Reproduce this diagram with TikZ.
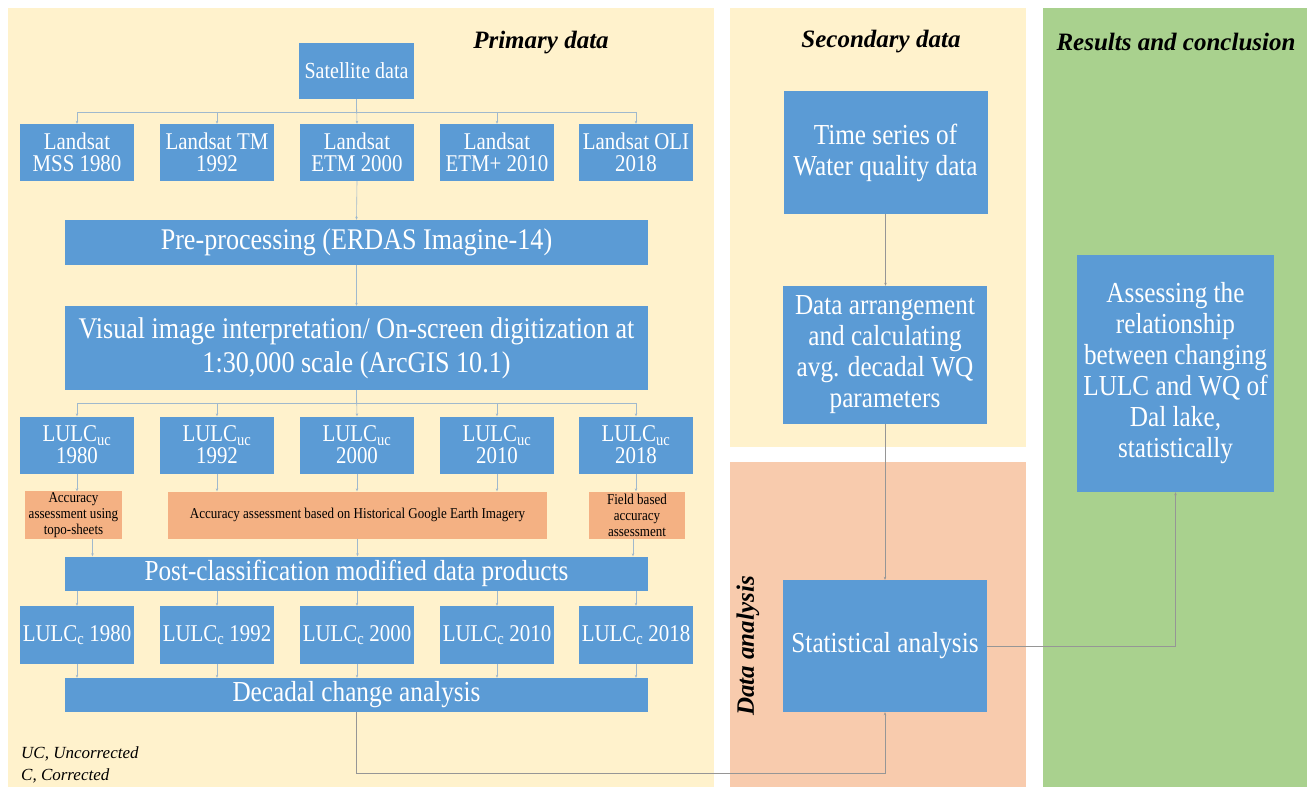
\documentclass[tikz,border=0pt]{standalone}
\usepackage{fontspec}
\setmainfont{Liberation Serif}
\newfontfamily\narrowfont[FakeStretch=0.87]{Liberation Serif}
\usetikzlibrary{arrows.meta}
\definecolor{boxblue}{RGB}{91,155,213}
\definecolor{accorange}{RGB}{244,177,131}
\definecolor{panelyellow}{RGB}{255,242,204}
\definecolor{panelsalmon}{RGB}{248,203,173}
\definecolor{panelgreen}{RGB}{169,209,142}
\definecolor{linkblue}{RGB}{160,185,205}
\definecolor{linkgray}{RGB}{150,150,150}
\tikzset{every node/.style={inner sep=1pt, align=center},
  bluebox/.style={fill=boxblue, text=white},
  smallbox/.style={bluebox, minimum width=114pt, font=\narrowfont\fontsize{24}{22}\selectfont},
  widebox/.style={bluebox, minimum width=583pt},
  accbox/.style={fill=accorange, minimum height=47pt, font=\narrowfont\fontsize{15}{16}\selectfont},
  sidebox/.style={bluebox, minimum width=204pt, font=\narrowfont\fontsize{29}{31}\selectfont},
  title/.style={font=\fontsize{25}{28}\selectfont\bfseries\itshape},
  link/.style={draw=linkblue, line width=0.6pt, -{Stealth[length=3pt,width=2.5pt]}},
  link2/.style={draw=linkgray, line width=0.6pt, -{Stealth[length=3pt,width=2.5pt]}}}

\begin{document}
\begin{tikzpicture}[x=1pt, y=-1pt]
   \useasboundingbox (0,0) rectangle (1307,787);
   % panels
   \fill[panelyellow] (8,8) rectangle (714,787);
   \fill[panelyellow] (730,8) rectangle (1026,447);
   \fill[panelsalmon] (730,462) rectangle (1026,787);
   \fill[panelgreen] (1043,8) rectangle (1307,787);
   \node[title] (ptitle) at (541,43) {Primary data};
   \node[title] (stitle) at (881,42) {Secondary data};
   \node[title] (rtitle) at (1176,42) {Results and conclusion};
   \node[title, rotate=90] (dtitle) at (748,646) {Data analysis};

   % primary data
   \node[bluebox, minimum width=115pt, minimum height=56pt, font=\narrowfont\fontsize{23}{22}\selectfont] (sat) at (356.5,71) {Satellite data};
   \node[smallbox, minimum height=57pt] (ls1) at (77,152.5) {Landsat\\MSS 1980};
   \node[smallbox, minimum height=57pt] (ls2) at (217,152.5) {Landsat TM\\1992};
   \node[smallbox, minimum height=57pt] (ls3) at (357,152.5) {Landsat\\ETM 2000};
   \node[smallbox, minimum height=57pt] (ls4) at (497,152.5) {Landsat\\ETM+ 2010};
   \node[smallbox, minimum height=57pt] (ls5) at (636,152.5) {Landsat OLI\\2018};
   \node[widebox, minimum height=45pt, font=\narrowfont\fontsize{30}{30}\selectfont] (pre) at (356.5,242.5) {Pre-processing (ERDAS Imagine-14)};
   \node[widebox, minimum height=84pt, font=\narrowfont\fontsize{30}{34}\selectfont] (vis) at (356.5,348) {Visual image interpretation/ On-screen digitization at\\1:30,000 scale (ArcGIS 10.1)};
   \node[smallbox, minimum height=57pt] (uc1) at (77,445) {LULC\textsubscript{uc}\\1980};
   \node[smallbox, minimum height=57pt] (uc2) at (217,445) {LULC\textsubscript{uc}\\1992};
   \node[smallbox, minimum height=57pt] (uc3) at (357,445) {LULC\textsubscript{uc}\\2000};
   \node[smallbox, minimum height=57pt] (uc4) at (497,445) {LULC\textsubscript{uc}\\2010};
   \node[smallbox, minimum height=57pt] (uc5) at (636,445) {LULC\textsubscript{uc}\\2018};
   \node[accbox, minimum width=97pt] (acc1) at (73.5,515) {Accuracy\\assessment using\\topo-sheets};
   \node[accbox, minimum width=379pt] (acc2) at (357.5,515) {Accuracy assessment based on Historical Google Earth Imagery};
   \node[accbox, minimum width=96pt] (acc3) at (637,515) {Field based\\accuracy\\assessment};
   \node[widebox, minimum height=34pt, font=\narrowfont\fontsize{29}{28}\selectfont] (post) at (356.5,573.5) {Post-classification modified data products};
   \node[smallbox, minimum height=58pt] (lc1) at (77,635) {LULC\textsubscript{c} 1980};
   \node[smallbox, minimum height=58pt] (lc2) at (217,635) {LULC\textsubscript{c} 1992};
   \node[smallbox, minimum height=58pt] (lc3) at (357,635) {LULC\textsubscript{c} 2000};
   \node[smallbox, minimum height=58pt] (lc4) at (497,635) {LULC\textsubscript{c} 2010};
   \node[smallbox, minimum height=58pt] (lc5) at (636,635) {LULC\textsubscript{c} 2018};
   \node[widebox, minimum height=34pt, font=\narrowfont\fontsize{29}{28}\selectfont] (dca) at (356.5,695) {Decadal change analysis};
   \node[anchor=west, align=left, font=\fontsize{17}{22}\selectfont\itshape] (note) at (20,765) {UC, Uncorrected\\C, Corrected};

   % secondary data, analysis, results
   \node[sidebox, minimum height=123pt] (ts) at (885.5,152.5) {Time series of\\Water quality data};
   \node[sidebox, minimum height=138pt] (arr) at (885,355) {Data arrangement\\and calculating\\avg. decadal WQ\\parameters};
   \node[sidebox, minimum height=132pt] (stat) at (885,646) {Statistical analysis};
   \node[sidebox, minimum width=197pt, minimum height=237pt] (assess) at (1175.5,373.5) {Assessing the\\relationship\\between changing\\LULC and WQ of\\Dal lake,\\statistically};

   % links
   \draw[link] (sat.south) -- ++(0,13) -| (ls1.north);
   \draw[link] (sat.south) -- ++(0,13) -| (ls2.north);
   \draw[link] (sat.south) -- (ls3.north);
   \draw[link] (sat.south) -- ++(0,13) -| (ls4.north);
   \draw[link] (sat.south) -- ++(0,13) -| (ls5.north);
   \draw[link] (ls3.south) -- (pre.north);
   \draw[link] (pre.south) -- (vis.north);
   \draw[link] (vis.south) -- ++(0,13) -| (uc1.north);
   \draw[link] (vis.south) -- ++(0,13) -| (uc2.north);
   \draw[link] (vis.south) -- (uc3.north);
   \draw[link] (vis.south) -- ++(0,13) -| (uc4.north);
   \draw[link] (vis.south) -- ++(0,13) -| (uc5.north);
   \draw[link] (uc1.south) -- (uc1.south |- acc1.north);
   \draw[link] (uc2.south) -- (uc2.south |- acc2.north);
   \draw[link] (uc3.south) -- (uc3.south |- acc2.north);
   \draw[link] (uc4.south) -- (uc4.south |- acc2.north);
   \draw[link] (uc5.south) -- (uc5.south |- acc3.north);
   \draw[link] ([xshift=19pt]acc1.south) -- ([xshift=19pt]acc1.south |- post.north);
   \draw[link] (acc2.south) -- (acc2.south |- post.north);
   \draw[link] ([xshift=-4pt]acc3.south) -- ([xshift=-4pt]acc3.south |- post.north);
   \draw[link] (post.south -| lc1.north) -- (lc1.north);
   \draw[link] (post.south -| lc2.north) -- (lc2.north);
   \draw[link] (post.south -| lc3.north) -- (lc3.north);
   \draw[link] (post.south -| lc4.north) -- (lc4.north);
   \draw[link] (post.south -| lc5.north) -- (lc5.north);
   \draw[link] (lc1.south) -- (lc1.south |- dca.north);
   \draw[link] (lc2.south) -- (lc2.south |- dca.north);
   \draw[link] (lc3.south) -- (lc3.south |- dca.north);
   \draw[link] (lc4.south) -- (lc4.south |- dca.north);
   \draw[link] (lc5.south) -- (lc5.south |- dca.north);
   \draw[link2] (dca.south) -- ++(0,61) -| (stat.south);
   \draw[link2] (ts.south) -- (ts.south |- arr.north);
   \draw[link2] (arr.south) -- (arr.south |- stat.north);
   \draw[link2] (stat.east) -| (assess.south);
  \end{tikzpicture}
\end{document}
